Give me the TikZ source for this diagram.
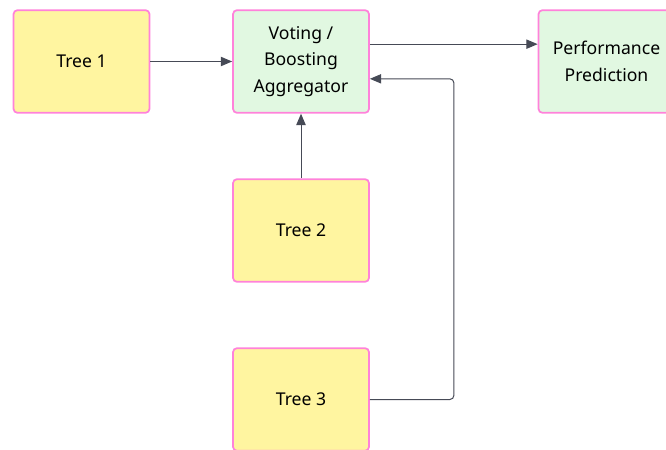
\documentclass[tikz,border=0pt]{standalone}
\usepackage{fontspec}
\setmainfont{Noto Sans}
\usetikzlibrary{arrows.meta}
\definecolor{treefill}{RGB}{255,245,160}
\definecolor{aggfill}{RGB}{225,248,225}
\definecolor{boxline}{RGB}{255,130,218}
\definecolor{wire}{RGB}{70,74,86}
\begin{document}
\begin{tikzpicture}[x=0.75pt, y=-0.75pt,
  box/.style={draw=boxline, line width=1.3pt, rounded corners=3pt,
    minimum width=102pt, minimum height=77pt, align=center,
    font=\fontsize{13.2}{20}\selectfont},
  tree/.style={box, fill=treefill},
  agg/.style={box, fill=aggfill},
  flow/.style={draw=wire, line width=0.75pt,
    -{Triangle[length=8.5pt, width=7pt]}}]
  \useasboundingbox (0,0) rectangle (666,449);
  \clip (0,0) rectangle (666,449);
  % Bäume und Aggregator
  \node[tree] (tree1) at (81.5,61.5) {Tree 1};
  \node[agg] (vote) at (301,61.5) {Voting /\\Boosting\\Aggregator};
  \node[agg] (perf) at (606.5,61.5) {Performance\\Prediction};
  \node[tree] (tree2) at (301,230.5) {Tree 2};
  \node[tree] (tree3) at (301,399.5) {Tree 3};
  % Verbindungen
  \draw[flow] (tree1) -- (vote);
  \draw[flow] ([yshift=13pt]vote.east) -- ([yshift=13pt]perf.west);
  \draw[flow] (tree2) -- (vote);
  \draw[flow, rounded corners=3pt] (tree3.east) -- ++(84,0) |- ([yshift=-13pt]vote.east);
\end{tikzpicture}
\end{document}
